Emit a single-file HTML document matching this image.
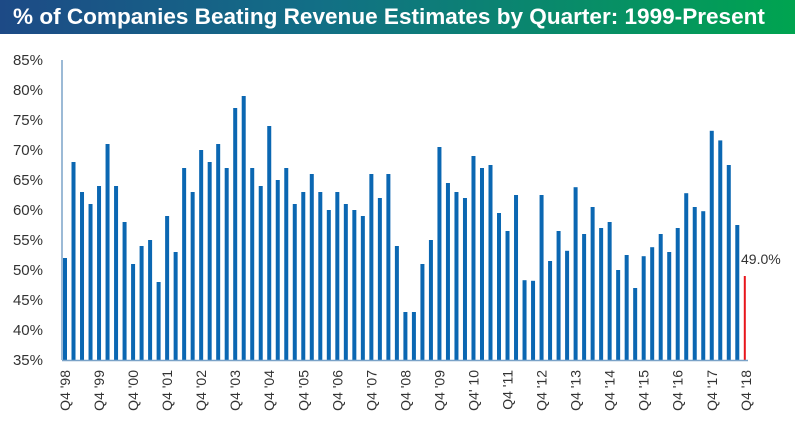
<!DOCTYPE html>
<html><head><meta charset="utf-8"><style>
body{margin:0;background:#fff;width:800px;height:430px;overflow:hidden;font-family:"Liberation Sans",sans-serif}
#banner{position:absolute;left:0;top:0;width:795px;height:34px;background:linear-gradient(90deg,#1d4a86 0%,#126f86 40%,#00a450 100%)}
#banner span{position:absolute;left:13px;top:4px;color:#fff;font-weight:bold;font-size:22px;white-space:nowrap;transform-origin:0 0;transform:scaleX(1.025);font-family:"Liberation Sans",sans-serif}
</style></head><body>
<div id="banner"><span>% of Companies Beating Revenue Estimates by Quarter: 1999-Present</span></div>
<svg id="chart" width="800" height="430" style="position:absolute;left:0;top:0"></svg>
<script>
const values=[52,68,63,61,64,71,64,58,51,54,55,48,59,53,67,63,70,68,71,67,77,79,67,64,74,65,67,61,63,66,63,60,63,61,60,59,66,62,66,54,43,43,51,55,70.5,64.5,63,62,69,67,67.5,59.5,56.5,62.5,48.3,48.2,62.5,51.5,56.5,53.2,63.8,56,60.5,57,58,50,52.5,47,52.3,53.8,56,53,57,62.8,60.5,59.8,73.2,71.6,67.5,57.5,49];
const yTicks=[35,40,45,50,55,60,65,70,75,80,85];
const xLabels=["Q4 '98","Q4 '99","Q4 '00","Q4 '01","Q4 '02","Q4 '03","Q4 '04","Q4 '05","Q4 '06","Q4 '07","Q4 '08","Q4 '09","Q4' 10","Q4 '11","Q4 '12","Q4 '13","Q4 '14","Q4 '15","Q4 '16","Q4 '17","Q4 '18"];
const svg=document.getElementById('chart');const NS='http://www.w3.org/2000/svg';
const y=v=>360-(v-35)*6;
const x=i=>65+i*8.51;
function mk(t,a){const e=document.createElementNS(NS,t);for(const k in a)e.setAttribute(k,a[k]);svg.appendChild(e);return e;}
yTicks.forEach(t=>{const e=mk('text',{x:43,y:y(t)+5,'text-anchor':'end','font-size':'15','fill':'#333'});e.textContent=t+'%';

});
values.forEach((v,i)=>{const last=i===values.length-1;const r=mk('rect',{x:x(i)-2,y:y(v),width:last?2:4,height:360-y(v),fill:last?'#e8151b':'#0b67b2'});

});
const ax=mk('line',{x1:62,y1:60,x2:62,y2:360,stroke:'#7ba3c8','stroke-width':1.5});


const bx=mk('line',{x1:62,y1:360.5,x2:748,y2:360.5,stroke:'#7ba3c8','stroke-width':1.5});


xLabels.forEach((l,j)=>{const cx=x(j*4)+5;const e=mk('text',{x:0,y:0,'text-anchor':'end','font-size':'14','fill':'#333',transform:`translate(${cx},370) rotate(-90)`});e.textContent=l;

});
const lv=values[values.length-1];
const lab=mk('text',{x:741,y:y(lv)-12,'font-size':'14','fill':'#333'});lab.textContent=lv.toFixed(1)+'%';


</script>
</body></html>
